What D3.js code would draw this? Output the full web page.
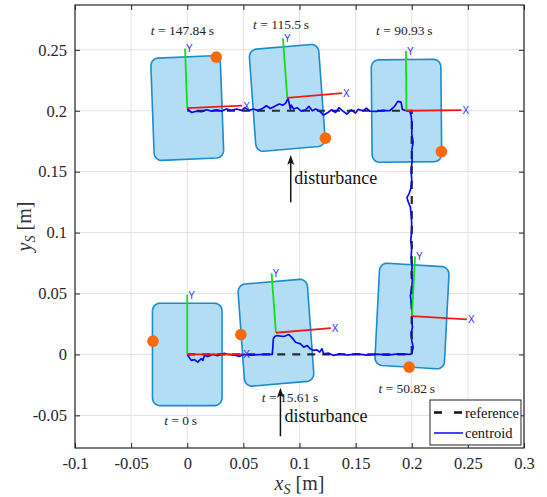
<!DOCTYPE html>
<html>
<head>
<meta charset="utf-8">
<script src="https://cdn.jsdelivr.net/npm/d3@7"></script>
<style>
body { margin: 0; background: #fff; }
svg { display: block; }
</style>
</head>
<body>
<div id="chart"></div>
<script>
/* data */
var xTicks = [-0.1, -0.05, 0, 0.05, 0.1, 0.15, 0.2, 0.25, 0.3];
var xTickLabels = ["-0.1", "-0.05", "0", "0.05", "0.1", "0.15", "0.2", "0.25", "0.3"];
var yTicks = [-0.05, 0, 0.05, 0.1, 0.15, 0.2, 0.25];
var yTickLabels = ["-0.05", "0", "0.05", "0.1", "0.15", "0.2", "0.25"];

var poseTime = ["0", "15.61", "50.82", "90.93", "115.5", "147.84"];
var poseX = [0, 0.079, 0.2002, 0.1953, 0.0891, 0];
var poseY = [0, 0.0178, 0.0315, 0.2, 0.2106, 0.2022];
var poseAngle = [0, 4.5, -3.2, 0.6, 4.5, 2.3];
var dotX = [-0.0305, 0.0478, 0.1977, 0.2264, 0.1231, 0.0259];
var dotY = [0.0109, 0.0163, -0.0104, 0.1665, 0.1775, 0.2440];
var timeLabelX = [-0.0059, 0.0916, 0.1955, 0.1934, 0.0836, -0.0043];
var timeLabelY = [-0.0541, -0.035, -0.0273, 0.2659, 0.2709, 0.2665];

var refX = [0, 0.2, 0.2, 0];
var refY = [0, 0, 0.2, 0.2];

var centroidX = [0, 0.0035, 0.0065, 0.0094, 0.0124, 0.0139, 0.0153, 0.0183, 0.0227, 0.0271, 0.033, 0.036, 0.0419, 0.0463, 0.0501, 0.0566, 0.0684, 0.0758, 0.0767, 0.0779, 0.080, 0.086, 0.0906, 0.0935, 0.0965, 0.1009, 0.1038, 0.1068, 0.1097, 0.1127, 0.1156, 0.118, 0.12, 0.1215, 0.126, 0.1304, 0.1363, 0.1422, 0.151, 0.16, 0.1693, 0.1786, 0.1878, 0.1986,
	0.2, 0.2012, 0.2, 0.1994, 0.2006, 0.2, 0.2003, 0.1994, 0.1988, 0.2, 0.2006, 0.1997, 0.2003, 0.1994, 0.2, 0.1991, 0.1997, 0.2, 0.1997, 0.1988, 0.1964, 0.1958, 0.1976, 0.1991, 0.2, 0.1994, 0.2003, 0.2, 0.2012, 0.2, 0.2003, 0.1994, 0.1982,
	0.1952, 0.1916, 0.1905, 0.1875, 0.1845, 0.1804, 0.1745, 0.1685, 0.1626, 0.1597, 0.1567, 0.1522, 0.1499, 0.1461, 0.1422, 0.1387, 0.1351, 0.1321, 0.1286, 0.1253, 0.1215, 0.1179, 0.1144, 0.1114, 0.1084, 0.1055, 0.1016, 0.0978, 0.0948, 0.0927, 0.0919, 0.0898, 0.0877, 0.0853, 0.0818, 0.0779, 0.0741, 0.0705, 0.067, 0.0631, 0.0587, 0.0551, 0.0513, 0.0483, 0.0439, 0.0394, 0.035, 0.0305, 0.0261, 0.0216, 0.0172, 0.0127, 0.0083, 0.0039, 0.0009, 0];
var centroidY = [0, -0.0049, -0.0043, -0.0063, -0.0035, -0.0049, -0.0008, -0.0016, 0, -0.001, 0.001, 0, -0.0005, -0.0016, 0, -0.0005, 0, 0, 0.0128, 0.0147, 0.0155, 0.0147, 0.0163, 0.0136, 0.01, 0.0087, 0.006, 0.0073, 0.0046, 0.0033, 0.0038, 0.0019, 0.0046, 0.0005, 0.001, -0.0008, 0.0005, -0.0005, 0.0005, -0.0005, 0.0003, -0.0005, 0.0005, 0,
	0.0005, 0.006, 0.0115, 0.017, 0.0224, 0.028, 0.0334, 0.044, 0.048, 0.055, 0.0607, 0.0662, 0.0716, 0.0798, 0.088, 0.0935, 0.099, 0.1044, 0.1126, 0.1208, 0.1263, 0.129, 0.1318, 0.1359, 0.1427, 0.1509, 0.1591, 0.1673, 0.1742, 0.181, 0.1892, 0.1961, 0.1995,
	0.2, 0.2011, 0.2071, 0.2077, 0.2033, 0.2, 0.2003, 0.1995, 0.1997, 0.2022, 0.2, 0.2011, 0.1981, 0.2008, 0.1973, 0.1997, 0.2025, 0.1986, 0.2008, 0.1986, 0.1965, 0.1997, 0.2014, 0.2, 0.2036, 0.2008, 0.1997, 0.2025, 0.2014, 0.2046, 0.2014, 0.2101, 0.2063, 0.2046, 0.2055, 0.2036, 0.2019, 0.2041, 0.2019, 0.2003, 0.2014, 0.2003, 0.2025, 0.2003, 0.2014, 0.2003, 0.2014, 0.1997, 0.2008, 0.1997, 0.2008, 0.1992, 0.1997, 0.1986, 0.2008, 0.2019];

var arrowX = [0.083, 0.0922];
var arrowFromY = [-0.0672, 0.1249];
var arrowToY = [-0.0273, 0.1637];
var disturbX = [0.0867, 0.0953];
var disturbY = [-0.0505, 0.1447];

var legendNames = ["reference", "centroid"];

/* layout */
var W = 547, H = 497;
var plotL = 75, plotR = 524, plotT = 5, plotB = 448;
var bodyW = 0.062, bodyH = 0.084, corner = 0.0065, axisLen = 0.049;

var x = d3.scaleLinear().domain([-0.1, 0.3]).range([plotL, plotR]);
var y = d3.scaleLinear().domain([-0.0768, 0.2868]).range([plotB, plotT]);

var svg = d3.select("#chart").append("svg")
	.attr("width", W)
	.attr("height", H)
	.style("font-family", "'Liberation Serif', 'Times New Roman', serif");

svg.append("defs").append("clipPath").attr("id", "plotclip")
	.append("rect").attr("x", plotL).attr("y", plotT).attr("width", plotR - plotL).attr("height", plotB - plotT);

/* grid */
var grid = svg.append("g");
grid.selectAll(".gx").data(xTicks).enter().append("line")
	.attr("x1", function(d){ return x(d); }).attr("x2", function(d){ return x(d); })
	.attr("y1", plotT).attr("y2", plotB)
	.attr("stroke", "#e3e3e3").attr("stroke-width", 1);
grid.selectAll(".gy").data(yTicks).enter().append("line")
	.attr("y1", function(d){ return y(d); }).attr("y2", function(d){ return y(d); })
	.attr("x1", plotL).attr("x2", plotR)
	.attr("stroke", "#e3e3e3").attr("stroke-width", 1);

var plot = svg.append("g").attr("clip-path", "url(#plotclip)");

/* robot bodies */
function bodyOutline(cx, cy, deg){
	var th = deg * Math.PI / 180;
	var pts = [];
	var c = [[bodyW/2 - corner, bodyH/2 - corner, 0], [-bodyW/2 + corner, bodyH/2 - corner, 90],
		[-bodyW/2 + corner, -bodyH/2 + corner, 180], [bodyW/2 - corner, -bodyH/2 + corner, 270]];
	for (var i = 0; i < 4; i++){
		for (var a = 0; a <= 90; a += 10){
			var ang = (c[i][2] + a) * Math.PI / 180;
			var bx = c[i][0] + corner * Math.cos(ang);
			var by = c[i][1] + corner * Math.sin(ang);
			pts.push([x(cx + bx*Math.cos(th) - by*Math.sin(th)), y(cy + bx*Math.sin(th) + by*Math.cos(th))]);
		}
	}
	return d3.line()(pts) + "Z";
}

for (var i = 0; i < poseX.length; i++){
	plot.append("path")
		.attr("d", bodyOutline(poseX[i], poseY[i], poseAngle[i]))
		.attr("fill", "#b3ddf5")
		.attr("stroke", "#1a8cd0")
		.attr("stroke-width", 1.6);
}

/* reference and centroid paths */
var refLine = d3.line().x(function(d){ return x(refX[d]); }).y(function(d){ return y(refY[d]); });
plot.append("path")
	.attr("d", refLine(d3.range(refX.length)))
	.attr("fill", "none")
	.attr("stroke", "#2b2b2b")
	.attr("stroke-width", 2.2)
	.attr("stroke-dasharray", "8,7");

var cLine = d3.line().x(function(d){ return x(centroidX[d]); }).y(function(d){ return y(centroidY[d]); });
plot.append("path")
	.attr("d", cLine(d3.range(centroidX.length)))
	.attr("fill", "none")
	.attr("stroke", "#0a0af2")
	.attr("stroke-width", 1.7)
	.attr("stroke-linejoin", "round");

/* body frames */
for (var i = 0; i < poseX.length; i++){
	var th = poseAngle[i] * Math.PI / 180;
	var ox = poseX[i], oy = poseY[i];
	var xe = [ox + axisLen*Math.cos(th), oy + axisLen*Math.sin(th)];
	var ye = [ox - axisLen*Math.sin(th), oy + axisLen*Math.cos(th)];
	plot.append("line")
		.attr("x1", x(ox)).attr("y1", y(oy)).attr("x2", x(ye[0])).attr("y2", y(ye[1]))
		.attr("stroke", "#12e012").attr("stroke-width", 1.8);
	plot.append("line")
		.attr("x1", x(ox)).attr("y1", y(oy)).attr("x2", x(xe[0])).attr("y2", y(xe[1]))
		.attr("stroke", "#f21818").attr("stroke-width", 1.8);
	plot.append("text")
		.attr("x", x(xe[0]) + 1).attr("y", y(xe[1]) + 4)
		.attr("fill", "#3030ff").attr("font-family", "'Liberation Sans', Arial, sans-serif").attr("font-size", 10)
		.text("X");
	plot.append("text")
		.attr("x", x(ye[0]) + 1).attr("y", y(ye[1]) + 4)
		.attr("fill", "#3030ff").attr("font-family", "'Liberation Sans', Arial, sans-serif").attr("font-size", 10)
		.text("Y");
	plot.append("circle")
		.attr("cx", x(dotX[i])).attr("cy", y(dotY[i])).attr("r", 5.8)
		.attr("fill", "#fa6a0c");
}

/* time labels */
for (var i = 0; i < poseTime.length; i++){
	var t = plot.append("text")
		.attr("x", x(timeLabelX[i])).attr("y", y(timeLabelY[i]))
		.attr("text-anchor", "middle").attr("dominant-baseline", "central")
		.attr("font-size", 13.5).attr("fill", "#262626");
	t.append("tspan").attr("font-style", "italic").text("t");
	t.append("tspan").text(" = " + poseTime[i] + "\u2009s");
}

/* disturbance arrows */
for (var i = 0; i < arrowX.length; i++){
	var ax = x(arrowX[i]), y0 = y(arrowFromY[i]), y1 = y(arrowToY[i]);
	plot.append("line")
		.attr("x1", ax).attr("y1", y0).attr("x2", ax).attr("y2", y1 + 7)
		.attr("stroke", "#111").attr("stroke-width", 1.5);
	plot.append("path")
		.attr("d", "M" + ax + "," + y1 + "L" + (ax - 3.5) + "," + (y1 + 10) + "L" + ax + "," + (y1 + 7.5) + "L" + (ax + 3.5) + "," + (y1 + 10) + "Z")
		.attr("fill", "#111");
	plot.append("text")
		.attr("x", x(disturbX[i])).attr("y", y(disturbY[i]))
		.attr("dominant-baseline", "central")
		.attr("font-size", 18).attr("fill", "#111")
		.text("disturbance");
}

/* axes */
var axB = d3.axisBottom(x).tickValues(xTicks).tickSize(-5).tickPadding(9)
	.tickFormat(function(d, i){ return xTickLabels[i]; });
var axL = d3.axisLeft(y).tickValues(yTicks).tickSize(-5).tickPadding(8)
	.tickFormat(function(d, i){ return yTickLabels[i]; });
var axT = d3.axisTop(x).tickValues(xTicks).tickSize(-5).tickFormat("");
var axR = d3.axisRight(y).tickValues(yTicks).tickSize(-5).tickFormat("");

function styleAxis(g){
	g.select(".domain").remove();
	g.selectAll(".tick line").attr("stroke", "#262626");
	g.selectAll(".tick text").attr("fill", "#262626").attr("font-size", 16.5)
		.attr("font-family", "'Liberation Serif', 'Times New Roman', serif");
}
svg.append("g").attr("transform", "translate(0," + plotB + ")").call(axB).call(styleAxis);
svg.append("g").attr("transform", "translate(" + plotL + ",0)").call(axL).call(styleAxis);
svg.append("g").attr("transform", "translate(0," + plotT + ")").call(axT).call(styleAxis);
svg.append("g").attr("transform", "translate(" + plotR + ",0)").call(axR).call(styleAxis);

svg.append("rect")
	.attr("x", plotL).attr("y", plotT).attr("width", plotR - plotL).attr("height", plotB - plotT)
	.attr("fill", "none").attr("stroke", "#262626").attr("stroke-width", 1.2);

/* axis labels */
var xl = svg.append("text")
	.attr("x", (plotL + plotR) / 2).attr("y", 490)
	.attr("text-anchor", "middle").attr("font-size", 20).attr("fill", "#333");
xl.append("tspan").attr("font-style", "italic").text("x");
xl.append("tspan").attr("font-style", "italic").attr("font-size", 14).attr("dy", 4).text("S");
xl.append("tspan").attr("dy", -4).text(" [m]");

var yl = svg.append("text")
	.attr("transform", "translate(31," + ((plotT + plotB) / 2) + ") rotate(-90)")
	.attr("text-anchor", "middle").attr("font-size", 20).attr("fill", "#333");
yl.append("tspan").attr("font-style", "italic").text("y");
yl.append("tspan").attr("font-style", "italic").attr("font-size", 14).attr("dy", 4).text("S");
yl.append("tspan").attr("dy", -4).text(" [m]");

/* legend */
var lgW = 91, lgH = 45;
var lgX = plotR - 3 - lgW, lgY = plotB - 3 - lgH;
var lg = svg.append("g").attr("transform", "translate(" + lgX + "," + lgY + ")");
lg.append("rect").attr("width", lgW).attr("height", lgH)
	.attr("fill", "#fff").attr("stroke", "#262626").attr("stroke-width", 1);
lg.append("line").attr("x1", 4).attr("x2", 33).attr("y1", 12.5).attr("y2", 12.5)
	.attr("stroke", "#111").attr("stroke-width", 2.6).attr("stroke-dasharray", "8,12");
lg.append("line").attr("x1", 4).attr("x2", 33).attr("y1", 33).attr("y2", 33)
	.attr("stroke", "#0a0af2").attr("stroke-width", 1.5);
lg.selectAll(".lt").data(legendNames).enter().append("text")
	.attr("x", 35).attr("y", function(d, i){ return 12.5 + i*20.5; })
	.attr("dominant-baseline", "central")
	.attr("font-size", 14.5).attr("fill", "#111")
	.text(function(d){ return d; });
</script>
</body>
</html>
